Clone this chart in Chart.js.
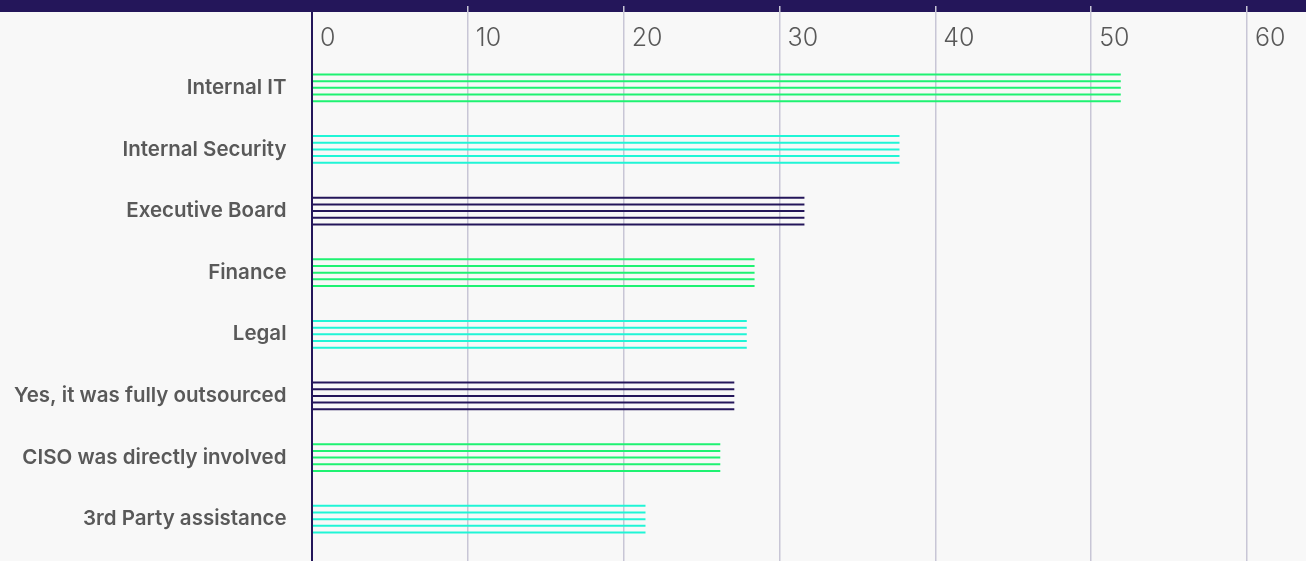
<!DOCTYPE html>
<html><head><meta charset="utf-8">
<script src="https://cdn.jsdelivr.net/npm/chart.js@4"></script>
<style>
html,body{margin:0;padding:0;background:#f8f8f8;overflow:hidden;width:1306px;height:561px;}
#band{position:absolute;left:0;top:0;width:1306px;height:12px;background:#24165a;}
#wrap{position:absolute;left:0;top:6px;width:1306px;height:555px;}
</style></head><body>
<div id="band"></div>
<div id="wrap"><canvas id="c" width="1306" height="555"></canvas></div>
<script>
const categories = ["Internal IT", "Internal Security", "Executive Board", "Finance", "Legal", "Yes, it was fully outsourced", "CISO was directly involved", "3rd Party assistance"];
const values = [51.9, 37.7, 31.6, 28.4, 27.9, 27.1, 26.2, 21.4];
const xTicks = [0, 10, 20, 30, 40, 50, 60];
const GREEN = "#1ff272", CYAN = "#20f5d6", NAVY = "#24165a";
const barColors = [GREEN, CYAN, NAVY, GREEN, CYAN, NAVY, GREEN, CYAN];
const stripeCount = 5;
const GRID = "#c8c6d6";

const datasets = Array.from({length: stripeCount}, () => ({
  data: values,
  backgroundColor: barColors,
  borderWidth: 0,
  categoryPercentage: 0.541,
  barPercentage: 0.3,
  xAxisID: 'x',
  yAxisID: 'y'
}));

const setTicks = s => { s.ticks = xTicks.map(v => ({value: v})); };
const gColor = ctx => (ctx.tick && ctx.tick.value === 0) ? NAVY : GRID;
const gWidth = ctx => (ctx.tick && ctx.tick.value === 0) ? 2 : 1.5;

new Chart(document.getElementById('c'), {
  type: 'bar',
  data: { labels: categories, datasets },
  options: {
    indexAxis: 'y',
    responsive: false,
    animation: false,
    layout: { padding: { left: 0, right: 59, top: 0, bottom: 0 } },
    plugins: { legend: { display: false }, tooltip: { enabled: false } },
    scales: {
      x: {
        position: 'top', min: 0, max: 60,
        afterBuildTicks: setTicks,
        afterFit: s => { s.height = 51; s.paddingLeft = 0; },
        border: { display: false },
        grid: { color: gColor, lineWidth: gWidth, drawTicks: true, tickLength: 51 },
        ticks: { align: 'start', labelOffset: 8, padding: -47.5, color: '#595959', font: { family: 'Inter', size: 25, weight: '300' }, maxRotation: 0 }
      },
      x2: {
        position: 'bottom', min: 0, max: 60, axis: 'x',
        afterBuildTicks: setTicks,
        afterFit: s => { s.height = 11; },
        border: { display: false },
        grid: { drawOnChartArea: false, color: gColor, lineWidth: gWidth, drawTicks: true, tickLength: 11 },
        ticks: { display: false }
      },
      y: {
        position: 'left',
        afterFit: s => { s.width = 312; s.paddingTop = 0; s.paddingBottom = 0; },
        grid: { display: false, drawTicks: true, tickLength: 25.5 },
        border: { display: true, color: NAVY, width: 2 },
        ticks: { color: '#595959', padding: 0, font: { family: 'Inter', size: 20.5, weight: '600' } }
      }
    }
  }
});
</script>
</body></html>
